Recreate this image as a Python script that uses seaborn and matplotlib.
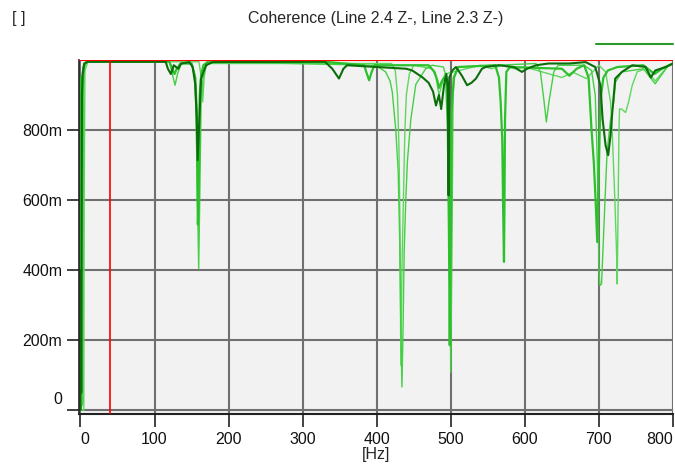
import numpy as np
import pandas as pd
import matplotlib
matplotlib.use('Agg')
import matplotlib.pyplot as plt
import matplotlib.transforms as mtransforms
from matplotlib.lines import Line2D
import seaborn as sns

# coherence traces (Hz, coherence)
dark_hz = [0, 0.5, 1, 1.5, 2, 3, 5, 10, 115, 118, 122, 126, 132, 136, 147, 151.5, 155, 157, 158.2,
           160.5, 162.7, 169.5, 178.5, 330, 340, 349, 355, 360, 400, 440, 448, 455, 462, 470, 476,
           480, 484, 487, 491, 494, 496, 497, 498, 502, 507, 515, 522, 528, 534, 542, 547, 565, 585,
           596, 603, 615, 632, 660, 682, 695, 702, 705, 709, 712.5, 715.7, 718, 722, 731, 745, 763,
           770, 776, 790, 800]
dark_val = [0.0, 0.4, 0.05, 0.3, 0.9, 0.96, 0.99, 0.995, 0.995, 0.975, 0.96, 0.985, 0.975, 0.99,
            0.994, 0.98, 0.93, 0.83, 0.714, 0.83, 0.946, 0.985, 0.994, 0.995, 0.975, 0.947, 0.975,
            0.985, 0.98, 0.975, 0.97, 0.96, 0.95, 0.935, 0.91, 0.87, 0.9, 0.86, 0.93, 0.96, 0.92,
            0.613, 0.95, 0.97, 0.98, 0.955, 0.928, 0.935, 0.947, 0.975, 0.98, 0.985, 0.98, 0.966,
            0.975, 0.985, 0.99, 0.99, 0.994, 0.98, 0.928, 0.83, 0.756, 0.728, 0.785, 0.85, 0.947,
            0.966, 0.985, 0.98, 0.95, 0.97, 0.98, 0.99]

bright_hz = [0, 1, 1.5, 2.5, 4, 8, 120, 124, 127, 130, 135, 150, 155, 157, 158.5, 159.5, 161, 163,
             166, 172, 330, 383, 386, 389.7, 393, 397, 470, 478, 482, 484, 488, 491, 494, 496,
             497.5, 498.6, 499.5, 501, 504, 510, 560, 565, 567.3, 569.5, 570.5, 571.8, 572.5,
             573.2, 575, 580, 650, 660, 670, 680, 686, 690, 693, 695.5, 697.7, 699, 701, 703, 706,
             712, 725, 760, 775, 785, 800]
bright_val = [0.0, 0.95, 0.85, 0.95, 0.98, 0.995, 0.995, 0.975, 0.96, 0.975, 0.99, 0.99, 0.95,
              0.85, 0.53, 0.6, 0.9, 0.96, 0.985, 0.995, 0.995, 0.985, 0.965, 0.942, 0.965, 0.985,
              0.985, 0.966, 0.94, 0.92, 0.94, 0.95, 0.93, 0.8, 0.5, 0.185, 0.5, 0.85, 0.95, 0.98,
              0.985, 0.95, 0.88, 0.77, 0.6, 0.423, 0.6, 0.83, 0.966, 0.98, 0.975, 0.955, 0.975,
              0.985, 0.95, 0.8, 0.71, 0.6, 0.48, 0.6, 0.8, 0.9, 0.95, 0.97, 0.98, 0.985, 0.96,
              0.975, 0.99]

light1_hz = [0, 3, 3.5, 4, 6, 10, 120, 124, 127.7, 131, 136, 150, 154, 156, 158, 159.6, 161, 163,
             167, 175, 398.7, 412, 418, 421, 425.7, 429, 431, 432.5, 434, 435.6, 437, 439.2,
             441.4, 446, 452.7, 466, 475, 490, 494, 496, 498, 500, 502, 503, 505, 510, 615, 621,
             626, 629, 632.5, 639, 645, 680, 690, 695, 698, 700, 701.3, 703.5, 705.3, 708, 711,
             715.7, 720, 722.4, 731, 760, 776, 782, 794, 800]
light1_val = [0.0, 0.02, 0.5, 0.93, 0.99, 0.995, 0.995, 0.96, 0.928, 0.96, 0.99, 0.99, 0.96, 0.85,
              0.6, 0.404, 0.6, 0.9, 0.975, 0.995, 0.985, 0.966, 0.94, 0.908, 0.8, 0.68, 0.48,
              0.24, 0.066, 0.24, 0.45, 0.6, 0.71, 0.83, 0.93, 0.975, 0.985, 0.98, 0.95, 0.85,
              0.5, 0.108, 0.6, 0.9, 0.95, 0.98, 0.99, 0.966, 0.88, 0.823, 0.88, 0.966, 0.985,
              0.985, 0.97, 0.9, 0.7, 0.4, 0.356, 0.36, 0.45, 0.59, 0.737, 0.83, 0.88, 0.937,
              0.966, 0.975, 0.932, 0.95, 0.985, 0.99]

light2_hz = [0, 4.5, 5, 6, 10, 160, 163, 165, 167, 170, 420, 425, 428, 430, 431.5, 432.5, 434,
             436, 438, 440, 444, 450, 475, 480, 484, 488, 492, 540, 555, 570, 585, 600, 650, 665,
             683, 700, 709, 715.7, 718, 721.5, 723.8, 724.7, 726, 727, 727.8, 730.5, 736, 740,
             745, 751.6, 763, 776, 782, 794, 800]
light2_val = [0.0, 0.0, 0.6, 0.97, 0.995, 0.995, 0.95, 0.88, 0.95, 0.99, 0.99, 0.97, 0.9, 0.75,
              0.5, 0.128, 0.4, 0.6, 0.8, 0.9, 0.96, 0.985, 0.975, 0.95, 0.9, 0.93, 0.96, 0.985,
              0.975, 0.985, 0.975, 0.98, 0.95, 0.965, 0.947, 0.985, 0.966, 0.88, 0.79, 0.6, 0.45,
              0.36, 0.6, 0.79, 0.86, 0.86, 0.85, 0.88, 0.928, 0.966, 0.975, 0.94, 0.955, 0.985,
              0.99]

x_ticks = [0, 100, 200, 300, 400, 500, 600, 700, 800]
y_ticks = [0, 0.2, 0.4, 0.6, 0.8]
y_labels = ['0', '200m', '400m', '600m', '800m']
cursor_hz = 40

sns.set_style('white')
plt.rcParams['font.family'] = ['Liberation Sans Narrow', 'Liberation Sans', 'DejaVu Sans']
FS = 11.5

fig = plt.figure(figsize=(6.75, 4.65), dpi=100)
ax = fig.add_axes([79 / 675, 51.5 / 465, 594 / 675, 353.5 / 465])
ax.set_facecolor('#f2f2f2')

traces = [
    (light2_hz, light2_val, '#5fd75f', 1.0),
    (light1_hz, light1_val, '#44cf44', 1.0),
    (bright_hz, bright_val, '#2cc02c', 1.6),
    (dark_hz, dark_val, '#0b6e0b', 1.5),
]
for hz, val, col, lw in traces:
    df = pd.DataFrame({'Hz': hz, 'coh': val})
    sns.lineplot(data=df, x='Hz', y='coh', ax=ax, color=col, linewidth=lw,
                 sort=False, estimator=None)

ax.axhline(1.0, color='#ff0000', lw=1.5, zorder=5)
ax.axvline(cursor_hz, color='#ff0000', lw=1.2, zorder=5)

ax.set_xlim(-2, 800)
ax.set_ylim(-0.01, 1.0)
ax.set_xticks(x_ticks)
ax.set_xticklabels([str(t) for t in x_ticks])
ax.set_yticks(y_ticks)
ax.set_yticklabels(y_labels)
ax.grid(True, color='#707070', lw=1.5)
ax.set_axisbelow(True)
ax.tick_params(axis='both', direction='out', length=9, width=1.2, color='#222222',
               labelsize=FS, labelcolor='#111111', left=True, bottom=True)
ax.tick_params(axis='y', pad=3)
ax.tick_params(axis='x', pad=4)
for s in ['top', 'right']:
    ax.spines[s].set_visible(False)
ax.spines['left'].set_color('#222222')
ax.spines['left'].set_linewidth(1.2)
ax.spines['bottom'].set_color('#222222')
ax.spines['bottom'].set_linewidth(1.5)
ax.set_xlabel('[Hz]', fontsize=FS, labelpad=0)
ax.set_ylabel('')

# lift the "0" label and pull the "800" label inside, like the original
zero_lbl = ax.get_yticklabels()[0]
zero_lbl.set_transform(zero_lbl.get_transform() + mtransforms.ScaledTranslation(0, 12 / 100, fig.dpi_scale_trans))
first_x = ax.get_xticklabels()[0]
first_x.set_transform(first_x.get_transform() + mtransforms.ScaledTranslation(4 / 100, 0, fig.dpi_scale_trans))
last_x = ax.get_xticklabels()[-1]
last_x.set_transform(last_x.get_transform() + mtransforms.ScaledTranslation(-13 / 100, 0, fig.dpi_scale_trans))

fig.text(376 / 675, 1 - 18 / 465, 'Coherence (Line 2.4 Z-, Line 2.3 Z-)', ha='center', va='center',
         fontsize=FS)
fig.text(12 / 675, 1 - 18 / 465, '[ ]', ha='left', va='center', fontsize=FS)
fig.add_artist(Line2D([596 / 675, 673 / 675], [1 - 44 / 465, 1 - 44 / 465], color='#2a9a2a', lw=1.5))

fig.savefig('out.png', dpi=100)
